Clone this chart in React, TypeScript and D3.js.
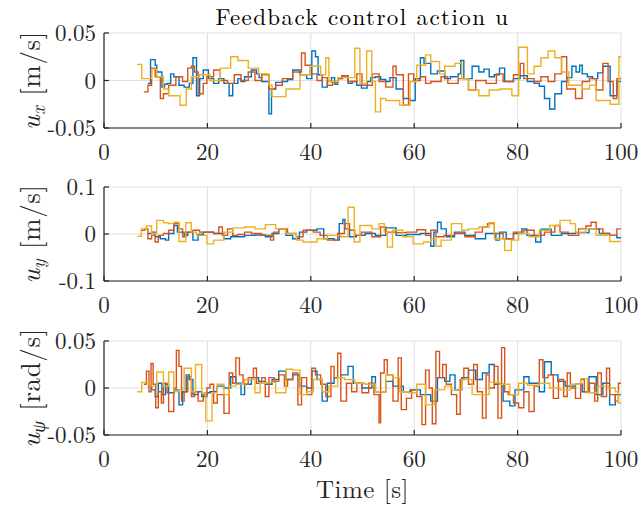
import React from "react";
import * as d3 from "d3";

// ---------- data (values in thousandths of the plotted unit) ----------
const xTicks = [0, 20, 40, 60, 80, 100];
const yTicks1 = [-0.05, 0, 0.05];
const yTickLabels1 = ["-0.05", "0", "0.05"];
const yTicks2 = [-0.1, 0, 0.1];
const yTickLabels2 = ["-0.1", "0", "0.1"];
const yTicks3 = [-0.05, 0, 0.05];
const yTickLabels3 = ["-0.05", "0", "0.05"];

const uxBlue = [[8.5,-3],[9,22],[9.9,16],[10.2,9],[11.2,-7],[11.7,-4],[12.2,-3],[12.9,7],[13.5,4],[14.5,-5],[15.5,-7],[16.5,-3],[17.2,24],[17.9,-16],[18.5,2],[19.2,11],[20.2,2],[21.2,-3],[22.2,2],[23.2,-3],[24.2,-16],[24.9,-3],[25.9,2],[26.5,-1],[27.2,4],[28.5,11],[29.5,7],[30,3],[30.5,-1],[31.9,-35],[32.4,-9],[33.2,-2],[34.5,-1],[35.5,1],[36.5,11],[37.9,6],[39.2,2],[40.2,31],[40.9,25],[41.4,6],[42.2,-7],[43.2,-1],[44,3],[44.6,-4],[45.2,2],[46,5],[47.2,-3],[48,-1],[48.9,-5],[49.8,-8],[50.9,-1],[51.6,3],[52.5,4],[53.5,1],[54.5,-1],[55.3,3],[56.5,-9],[57.9,-19],[59.2,-21],[60.2,2],[61.2,24],[61.9,18],[63.2,7],[64.5,10],[65.9,2],[67,4],[68.5,7],[69,21],[69.6,2],[71.2,15],[72.5,9],[73.5,12],[74.5,4],[75.5,6],[76.5,13],[77.5,-1],[79.2,2],[80.5,5],[81.9,-1],[83.2,-3],[84.2,-6],[85.2,-19],[86.2,-30],[87.2,-14],[88.5,-1],[89.5,3],[90.5,15],[91.3,9],[92,16],[92.5,7],[93.5,4],[94.5,2],[95.5,8],[96.5,15],[97.9,-16],[99.2,-1]];
const uxOrange = [[7.7,-12],[8.5,-5],[9.2,13],[9.9,4],[10.9,-19],[11.5,-14],[12.5,-5],[13.9,4],[15.2,-1],[16.2,13],[16.9,15],[17.5,9],[18.2,-14],[19.2,-3],[19.9,4],[21.2,11],[22.5,0],[23.9,-3],[25.2,6],[26.5,0],[27.9,9],[29.2,0],[30.5,6],[31.9,-9],[33.2,-5],[34.5,2],[36.5,9],[38.2,29],[38.9,16],[39.9,7],[41.2,0],[42.2,3],[43.2,-5],[44.2,-2],[45.2,2],[46.2,5],[47.2,-1],[48.9,7],[49.9,-5],[51.9,7],[53.2,-1],[54.5,-7],[55.9,15],[56.5,6],[57.9,-26],[58.9,7],[59.9,0],[61.2,4],[62.2,-3],[63.2,-1],[65.2,4],[66.5,-3],[68.5,2],[70.5,-10],[71.9,0],[73.9,-3],[75.9,7],[77.2,-1],[79.2,6],[80.5,18],[81.2,2],[83.2,-1],[84.5,4],[85.9,-1],[87.2,7],[88.5,25],[89.5,-9],[91.2,-19],[92.5,-1],[93.9,2],[95.2,-10],[96.5,18],[97.5,-1],[98.5,-19],[99.2,2]];
const uxYellow = [[6.4,17],[7.3,2],[9.2,12],[10.2,4],[11.5,-9],[12.5,-16],[14.7,-26],[15.9,-9],[16.9,4],[18.5,6],[20.5,0],[22.5,13],[24.5,25],[25.9,21],[27.9,13],[29.9,7],[31.9,-5],[32.5,-17],[35.2,-9],[37.9,6],[39.9,15],[41.9,6],[42.9,24],[43.5,-1],[45.2,3],[48.5,34],[49.5,-3],[50.8,31],[51.8,-1],[52.5,-33],[53.5,-19],[54.5,-21],[57.2,-26],[59.2,-1],[60.5,16],[62.2,27],[63.2,20],[64.9,7],[65.9,15],[67.9,18],[69.2,2],[70.5,-10],[72.5,-16],[74.5,-10],[76.5,-9],[78.9,-16],[80.2,35],[81.9,7],[83.2,15],[84.5,24],[85.9,31],[87.2,24],[88.5,9],[89.9,-5],[92.5,-9],[93.9,-5],[95.2,-21],[97.9,-25],[99.6,25]];

const uyBlue = [[8.5,1],[9.2,4],[9.9,-6],[10.9,-10],[11.9,-13],[12.5,1],[13.5,18],[14.2,4],[15.5,-3],[16.2,4],[17.2,-13],[18.2,-1],[19.2,4],[21.2,1],[23.2,-10],[24.5,-6],[27.2,-3],[29.2,-2],[31.2,-6],[32.5,1],[33.8,11],[35.2,-3],[36.5,-10],[37.8,4],[39.2,8],[41.2,11],[42.5,-10],[44.5,-13],[45.5,22],[46.2,31],[46.6,11],[47.5,-6],[48.8,-3],[50.5,1],[52.5,-3],[54.5,13],[56.5,-3],[58.5,-1],[61.2,1],[63.2,-26],[63.8,4],[64.5,25],[65.2,11],[66.2,-6],[67.8,4],[69.8,-3],[71.8,-10],[73.8,1],[75.8,-13],[76.5,4],[77.8,-10],[79.2,1],[80.8,11],[81.8,-3],[83.5,-17],[84.5,10],[86.5,-3],[88.5,1],[91.2,3],[93.8,11],[95.8,1],[97.8,-3],[99.2,-8]];
const uyOrange = [[7.2,8],[7.9,11],[8.5,-10],[9.2,-3],[9.9,-17],[10.5,-3],[11.5,1],[12.5,8],[13.5,22],[14.5,11],[15.2,-6],[15.9,4],[17.2,8],[18.5,4],[19.9,4],[21.2,1],[22.2,15],[22.9,-3],[23.9,11],[24.9,-3],[25.9,-1],[27.2,4],[28.5,1],[30.5,-3],[32.2,-13],[32.8,4],[33.8,11],[35.5,1],[37.2,-6],[38.5,8],[40.5,4],[41.8,-3],[43.2,-13],[45.2,1],[46.5,22],[47.5,8],[48.5,-3],[49.8,4],[51.8,-6],[53.5,15],[54.5,4],[56.5,3],[58.5,4],[60.5,9],[62.2,-3],[63.2,8],[64.2,-6],[65.8,-3],[67.8,1],[69.8,-6],[71.8,4],[73.2,15],[74.2,22],[75.5,1],[77.2,-10],[79.2,4],[81.2,8],[83.2,-3],[85.2,4],[87.2,18],[88.2,4],[89.8,-3],[91.8,11],[93.2,17],[94.2,25],[95.2,11],[96.5,1],[97.8,-3],[99.2,11]];
const uyYellow = [[6.4,-5],[7.2,11],[8.2,17],[9.2,1],[10.2,29],[11.5,24],[12.5,22],[13.5,25],[14.5,-16],[15.8,24],[16.9,4],[17.9,-3],[19.9,-21],[21.2,-13],[23.2,4],[24.9,13],[27.2,15],[29.2,11],[31.2,20],[33.2,11],[35.2,1],[37.2,-13],[38.5,-17],[41.2,-10],[43.2,-3],[45.8,-6],[47.2,57],[48.4,-17],[49.5,18],[51.8,11],[53.2,22],[54.2,4],[54.8,-28],[55.8,8],[57.8,-6],[59.8,-21],[61.8,-17],[63.2,-10],[64.2,-26],[65.2,-13],[67.2,22],[69.2,8],[70.5,11],[72.5,15],[74.5,24],[75.5,-10],[77.5,-35],[78.8,-13],[80.2,1],[82.2,-6],[84.2,8],[86.2,18],[88.2,29],[90.2,22],[91.2,4],[93.2,11],[95.2,-3],[97.8,-16]];

const upsiBlue = [[8.5,2],[9.2,-2],[9.9,-9],[10.5,5],[11.2,-7],[11.9,4],[12.5,-5],[13.5,-2],[14.5,-18],[15.2,-4],[15.9,14],[16.5,9],[17.2,-7],[18.2,-4],[18.9,-9],[19.9,-5],[20.5,-4],[21.9,2],[23.2,0],[24.5,12],[25.5,5],[26.5,-7],[27.2,4],[28.5,11],[29.9,7],[31.2,4],[32.5,9],[33.8,18],[35.2,9],[36.5,14],[37.8,2],[39.2,0],[40.2,18],[41.2,9],[42.2,-14],[43.2,5],[44.5,11],[45.8,14],[47.2,23],[48.2,5],[49.9,0],[51.8,12],[52.5,-4],[54.5,7],[55.9,2],[57.9,-4],[59.2,-2],[61.2,-7],[63.2,-14],[64.5,11],[65.9,7],[66.9,14],[67.9,-2],[69.2,11],[70.5,19],[71.9,9],[73.2,16],[74.5,25],[75.5,4],[77.2,-14],[78.5,-19],[79.5,-2],[81.2,12],[82.2,5],[84.2,-4],[85.2,28],[86.5,14],[87.8,7],[89.2,2],[91.2,4],[92.5,-4],[93.8,12],[95.2,-7],[96.5,5],[97.8,-18],[98.9,-7]];
const upsiOrange = [[7.7,4],[8.2,18],[8.7,-4],[9.1,26],[9.5,4],[10,-21],[10.5,-4],[11.1,-16],[11.5,5],[12.2,-5],[12.5,-25],[13.5,0],[14,40],[14.5,23],[15,-14],[15.5,-4],[16.2,12],[16.9,-9],[17.5,-4],[18.2,-14],[19.2,-7],[19.9,0],[20.5,4],[21.2,-16],[21.9,-7],[23.2,-27],[24.2,16],[24.9,5],[25.5,32],[26.2,14],[26.9,4],[27.9,11],[28.9,21],[29.5,5],[30.5,11],[31.2,-9],[31.9,11],[32.9,7],[33.8,14],[34.9,2],[35.5,9],[36.5,16],[37.5,-18],[38.2,11],[39.2,-7],[40.2,21],[40.9,14],[41.9,4],[42.9,-9],[43.9,23],[44.5,11],[45.2,37],[45.8,-14],[46.9,5],[47.9,-4],[48.9,5],[49.9,-5],[51.2,5],[52.2,-7],[53.2,-37],[53.5,16],[54.2,30],[54.8,14],[55.9,-14],[56.9,32],[57.5,-23],[58.5,-11],[59.5,-2],[60.5,-9],[61.5,-39],[62.2,19],[62.9,0],[63.5,-38],[64.2,39],[64.9,11],[65.5,25],[66.2,4],[67.2,-7],[68.2,-28],[68.9,9],[69.6,21],[70.5,4],[71.5,25],[72.2,-4],[73.2,-32],[73.9,14],[74.5,0],[75.5,23],[76.2,-32],[76.9,43],[77.5,-4],[78.2,-7],[79.2,-16],[80.2,-21],[81.2,-4],[82.2,-25],[83.2,2],[84.2,30],[84.9,11],[85.9,14],[86.9,-11],[87.9,9],[88.9,-9],[89.6,16],[90.2,0],[91.2,-11],[92.2,9],[92.9,-4],[93.9,5],[94.9,-14],[95.5,16],[96.2,-9],[97.2,21],[97.8,-7],[98.9,-14],[99.5,5]];
const upsiYellow = [[6.4,-4],[7.3,6],[8.9,2],[10.2,17],[11.5,2],[12.5,17],[13.5,-4],[14.5,-2],[15.5,21],[16.9,-4],[17.7,25],[18.9,-5],[19.7,-35],[20.9,-5],[21.9,4],[23.2,-7],[24.2,2],[25.5,4],[27.2,9],[29.2,-5],[30.2,5],[31.2,6],[33.2,-5],[35.2,20],[36.5,19],[37.9,-7],[39.2,-4],[40.5,9],[42.2,-4],[43.5,2],[45.2,11],[46.5,9],[48.5,5],[50.5,4],[52.5,-4],[54.5,14],[55.9,11],[57.2,-4],[58.9,-5],[60.5,4],[62.2,-18],[63.9,-2],[65.9,2],[67.2,-2],[69.2,9],[71.2,-7],[72.5,-7],[74.5,6],[76.5,4],[78.5,-7],[80.2,5],[81.9,3],[84.2,5],[86.2,0],[88.2,-2],[90.2,4],[92.2,10],[93.5,-5],[95.5,2],[97.5,0],[98.9,-4],[99.5,-16]];

const VALUE_UNIT = 0.001;
const T_END = 100;
const COLORS = ["#0072BD", "#D95319", "#EDB120"];

// ---------- layout ----------
const W = 642, H = 508;
const X0 = 104, X1 = 621;
const FONT = "'Latin Modern Roman','CMU Serif','Liberation Serif','Times New Roman',serif";
const AXIS = "#262626";
const GRID = "#DFDFDF";

const panels = [
  { top: 33, bottom: 128, lim: 0.05, ticks: yTicks1, labels: yTickLabels1, series: [uxBlue, uxOrange, uxYellow], sub: "x", unit: "[m/s]" },
  { top: 187, bottom: 281, lim: 0.1, ticks: yTicks2, labels: yTickLabels2, series: [uyBlue, uyOrange, uyYellow], sub: "y", unit: "[m/s]" },
  { top: 341, bottom: 435, lim: 0.05, ticks: yTicks3, labels: yTickLabels3, series: [upsiBlue, upsiOrange, upsiYellow], sub: "ψ", unit: "[rad/s]" },
];

const x = d3.scaleLinear().domain([0, 100]).range([X0, X1]);

function Panel({ p, idx }: { p: any; idx: number }) {
  const y = d3.scaleLinear().domain([-p.lim, p.lim]).range([p.bottom, p.top]);
  const line = d3
    .line<number[]>()
    .x((d) => x(d[0]))
    .y((d) => y(d[1] * VALUE_UNIT))
    .curve(d3.curveStepAfter);
  const clipId = `clip${idx}`;
  const midY = (p.top + p.bottom) / 2;
  return (
    <g>
      <defs>
        <clipPath id={clipId}>
          <rect x={X0} y={p.top - 1} width={X1 - X0 + 1} height={p.bottom - p.top + 2} />
        </clipPath>
      </defs>
      {xTicks.map((t) => (
        <line key={"gx" + t} x1={x(t)} x2={x(t)} y1={p.top} y2={p.bottom} stroke={GRID} strokeWidth={1} />
      ))}
      {p.ticks.map((t: number) => (
        <line key={"gy" + t} x1={X0} x2={X1} y1={y(t)} y2={y(t)} stroke={GRID} strokeWidth={1} />
      ))}
      <g clipPath={`url(#${clipId})`}>
        {p.series.map((s: number[][], i: number) => {
          const pts = [...s, [T_END, s[s.length - 1][1]]];
          return <path key={i} d={line(pts) || ""} fill="none" stroke={COLORS[i]} strokeWidth={1.4} />;
        })}
      </g>
      <line x1={X0} x2={X0} y1={p.top} y2={p.bottom} stroke={AXIS} strokeWidth={1.2} />
      <line x1={X0} x2={X1} y1={p.bottom} y2={p.bottom} stroke={AXIS} strokeWidth={1.2} />
      {xTicks.map((t) => (
        <line key={"tx" + t} x1={x(t)} x2={x(t)} y1={p.bottom} y2={p.bottom - 5} stroke={AXIS} strokeWidth={1.2} />
      ))}
      {p.ticks.map((t: number) => (
        <line key={"ty" + t} x1={X0} x2={X0 + 5} y1={y(t)} y2={y(t)} stroke={AXIS} strokeWidth={1.2} />
      ))}
      {xTicks.map((t) => (
        <text key={"lx" + t} x={x(t)} y={p.bottom + 32} textAnchor="middle" fontSize={23} fill={AXIS} fontFamily={FONT}>
          {String(t)}
        </text>
      ))}
      {p.ticks.map((t: number, i: number) => (
        <text key={"ly" + t} x={X0 - 8} y={y(t) + 8} textAnchor="end" fontSize={23} fill={AXIS} fontFamily={FONT}>
          {p.labels[i]}
        </text>
      ))}
      <text transform={`translate(40,${midY}) rotate(-90)`} textAnchor="middle" fontSize={27} fill={AXIS} fontFamily={FONT} letterSpacing={0.6}>
        <tspan fontStyle="italic">u</tspan>
        <tspan fontStyle="italic" fontSize={19} dy={5}>{p.sub}</tspan>
        <tspan dy={-5}>{" " + p.unit}</tspan>
      </text>
    </g>
  );
}

export default function App() {
  return (
    <svg width={W} height={H} style={{ position: "absolute", left: 0, top: 0, background: "#fff" }}>
      <rect x={0} y={0} width={W} height={H} fill="#fff" />
      <text x={362.5} y={25} textAnchor="middle" fontSize={23} fill="#000" fontFamily={FONT} letterSpacing={1.4}>
        Feedback control action u
      </text>
      {panels.map((p, i) => (
        <Panel key={i} p={p} idx={i} />
      ))}
      <text x={362.5} y={498} textAnchor="middle" fontSize={25} fill={AXIS} fontFamily={FONT} letterSpacing={0.5}>
        Time [s]
      </text>
    </svg>
  );
}
